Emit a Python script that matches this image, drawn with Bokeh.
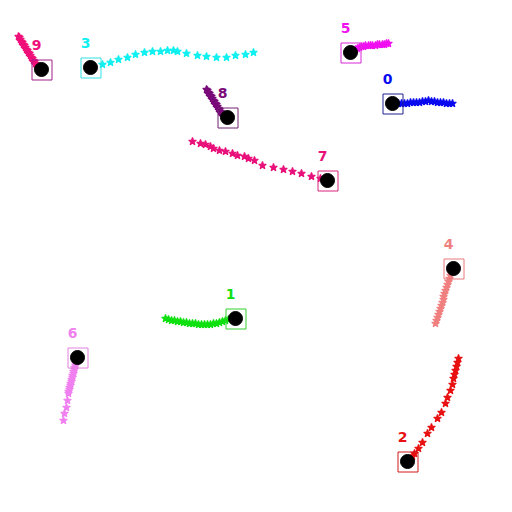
from bokeh.plotting import figure
from bokeh.models import Range1d, ColumnDataSource
from bokeh.embed import file_html
from bokeh.resources import INLINE
from bokeh.core.properties import value

# Track ids and colours
track_ids = ["0", "1", "2", "3", "4", "5", "6", "7", "8", "9"]
track_colors = ["#0a0af0", "#10e010", "#e81010", "#10f0f0", "#f08080",
                "#f010f0", "#f080f0", "#e8107a", "#7a0a7a", "#f0107a"]
box_colors = ["#202090", "#30d030", "#d01818", "#30e0e0", "#e87878",
              "#d828d8", "#e080e0", "#d8207a", "#702070", "#a0208a"]

# Current positions (pixel coordinates)
cur_x = [392, 235, 407, 90, 453, 350, 77, 327, 227, 41]
cur_y = [103, 318, 461, 67, 268, 52, 357, 180, 117, 69]

# Trails (oldest -> newest)
trail0_x = [452, 449, 446, 443, 440, 437, 434, 431, 428, 425, 422, 419, 416, 413, 410, 407, 404, 401, 398, 395]
trail0_y = [103, 103, 103, 102, 102, 102, 101, 101, 100, 101, 101, 102, 102, 102, 102, 103, 103, 103, 103, 103]
trail1_x = [165, 168, 171, 174, 177, 180, 183, 186, 189, 192, 195, 198, 201, 204, 207, 210, 213, 216, 219, 222, 225, 228, 231, 234]
trail1_y = [318, 319, 320, 320, 321, 321, 322, 322, 323, 323, 323, 324, 324, 324, 324, 324, 323, 323, 322, 321, 320, 319, 318, 318]
trail2_x = [458, 457, 456, 455, 454, 453, 452, 450, 447, 445, 441, 437, 431, 427, 422, 418, 414, 412, 410, 409, 407]
trail2_y = [358, 362, 366, 370, 374, 378, 384, 390, 397, 403, 412, 418, 427, 433, 442, 448, 453, 456, 458, 460, 462]
trail3_x = [253, 245, 235, 226, 216, 206, 197, 186, 177, 173, 167, 160, 152, 144, 135, 127, 118, 110, 102, 92]
trail3_y = [52, 54, 55, 57, 57, 56, 55, 53, 51, 50, 50, 51, 51, 52, 54, 57, 59, 62, 64, 67]
trail4_x = [435, 436, 437, 438, 439, 440, 441, 442, 443, 443, 444, 445, 446, 447, 448, 449, 450, 451, 452, 453]
trail4_y = [323, 320, 317, 314, 311, 308, 305, 302, 299, 296, 293, 290, 287, 284, 281, 278, 275, 272, 270, 268]
trail5_x = [388, 386, 384, 382, 379, 377, 375, 372, 370, 368, 365, 363, 361, 359, 357, 355, 353, 351]
trail5_y = [43, 43, 44, 44, 44, 44, 45, 45, 45, 45, 45, 46, 46, 47, 48, 49, 50, 52]
trail6_x = [63, 64, 66, 67, 68, 68, 69, 69, 70, 70, 71, 71, 72, 72, 73, 73, 74, 74, 75, 75, 76, 76, 77]
trail6_y = [420, 413, 407, 400, 393, 391, 389, 387, 385, 383, 381, 379, 377, 375, 373, 371, 369, 367, 365, 363, 361, 359, 357]
trail7_x = [192, 200, 205, 210, 213, 219, 225, 232, 237, 244, 248, 254, 262, 273, 283, 292, 301, 311, 320, 327]
trail7_y = [141, 143, 144, 146, 148, 150, 151, 153, 155, 156, 158, 160, 165, 167, 169, 171, 173, 176, 178, 180]
trail8_x = [206, 207, 208, 209, 210, 211, 212, 213, 214, 215, 216, 217, 218, 219, 220, 221, 222, 223, 224, 225, 226]
trail8_y = [89, 90, 92, 93, 95, 96, 98, 100, 101, 103, 104, 106, 108, 109, 111, 112, 113, 114, 115, 116, 117]
trail9_x = [18, 19, 20, 21, 22, 23, 24, 25, 26, 27, 28, 29, 30, 31, 32, 33, 34, 35, 36, 37, 38, 39, 40]
trail9_y = [36, 37, 39, 41, 42, 44, 45, 47, 49, 50, 52, 53, 55, 57, 58, 60, 61, 63, 64, 66, 67, 68, 69]

trails_x = [trail0_x, trail1_x, trail2_x, trail3_x, trail4_x, trail5_x, trail6_x, trail7_x, trail8_x, trail9_x]
trails_y = [trail0_y, trail1_y, trail2_y, trail3_y, trail4_y, trail5_y, trail6_y, trail7_y, trail8_y, trail9_y]

p = figure(width=512, height=512, output_backend="svg", toolbar_location=None,
           x_range=Range1d(0, 512), y_range=Range1d(512, 0), min_border=0,
           background_fill_color="white", border_fill_color="white")
p.axis.visible = False
p.grid.visible = False
p.outline_line_color = None

for i in range(len(track_ids)):
    p.scatter(trails_x[i], trails_y[i], marker="star", size=8,
              fill_color=track_colors[i], line_color=track_colors[i], line_width=1.2)

# half-pixel offset keeps the 1px box outlines crisp
bx = [x + 0.5 for x in cur_x]
by = [y + 0.5 for y in cur_y]
box_src = ColumnDataSource(dict(x=bx, y=by, c=box_colors))
p.rect(x="x", y="y", width=20, height=20, source=box_src,
       fill_color=None, line_color="c", line_width=1)
p.scatter(cur_x, cur_y, size=14, fill_color="black", line_color="black")

lab_x = [x - 5 for x in cur_x]
lab_y = [y - 20 for y in cur_y]
lab_src = ColumnDataSource(dict(x=lab_x, y=lab_y, t=track_ids, c=track_colors))
p.text(x="x", y="y", text="t", source=lab_src, text_color="c",
       text_font=value("DejaVu Sans"), text_font_style="bold", text_font_size="14px",
       text_align="center", text_baseline="bottom")

open("out.html", "w").write(file_html(p, INLINE))
